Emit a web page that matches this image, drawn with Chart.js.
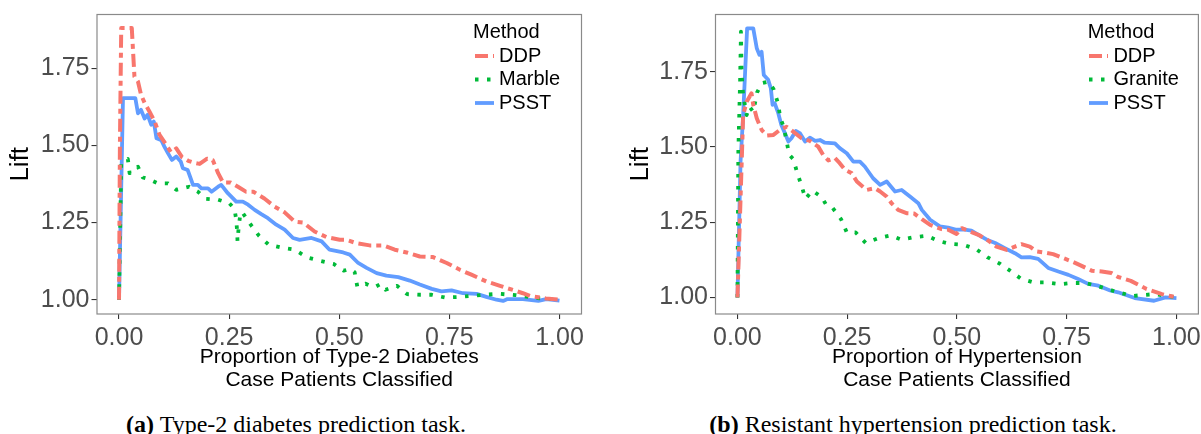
<!DOCTYPE html>
<html>
<head>
<meta charset="utf-8">
<script src="https://cdn.jsdelivr.net/npm/chart.js@4.4.1/dist/chart.umd.min.js"></script>
<style>
  html, body { margin: 0; padding: 0; background: #fff; }
  body { width: 1201px; height: 434px; position: relative; overflow: hidden; }
  .panel { position: absolute; top: 0; height: 400px; }
  #panel-a { left: 0; width: 600px; }
  #panel-b { left: 600px; width: 601px; }
  .caption {
    position: absolute; top: 412px; transform: translateX(-50%);
    white-space: nowrap; font-family: "Liberation Serif", "Times New Roman", serif;
    font-size: 24px; line-height: 24px; color: #000;
  }
</style>
</head>
<body>
<div class="panel" id="panel-a"><canvas id="chart-a"></canvas></div>
<div class="panel" id="panel-b"><canvas id="chart-b"></canvas></div>
<div class="caption" style="left:296px"><b>(a)</b> Type-2 diabetes prediction task.</div>
<div class="caption" style="left:913px"><b>(b)</b> Resistant hypertension prediction task.</div>

<script>
// --- Data (x = proportion classified, y = lift) ---
const xTicks = [0, 0.25, 0.5, 0.75, 1];
const yTicks = [1.00, 1.25, 1.50, 1.75];

const diabetesDDP = [
    [0, 1.0], [0.002, 1.5], [0.005, 1.88], [0.029, 1.88], [0.035, 1.723], [0.043, 1.707], [0.05, 1.664],
    [0.058, 1.638], [0.069, 1.61], [0.081, 1.577], [0.092, 1.534], [0.107, 1.502], [0.118, 1.478],
    [0.13, 1.49], [0.143, 1.462], [0.157, 1.45], [0.172, 1.443], [0.183, 1.44], [0.2, 1.457],
    [0.213, 1.452], [0.225, 1.41], [0.236, 1.38], [0.253, 1.38], [0.27, 1.366], [0.288, 1.35],
    [0.305, 1.35], [0.33, 1.328], [0.353, 1.302], [0.376, 1.283], [0.399, 1.253], [0.418, 1.25],
    [0.444, 1.221], [0.471, 1.203], [0.501, 1.194], [0.516, 1.194], [0.539, 1.183], [0.569, 1.176],
    [0.6, 1.176], [0.626, 1.162], [0.653, 1.153], [0.683, 1.14], [0.713, 1.138], [0.744, 1.119],
    [0.774, 1.097], [0.8, 1.081], [0.834, 1.059], [0.865, 1.045], [0.882, 1.037], [0.9, 1.029],
    [0.917, 1.021], [0.934, 1.012], [0.952, 1.008], [0.969, 1.004], [1.0, 1.0]
];
const diabetesMarble = [
    [0, 1.0], [0.005, 1.44], [0.02, 1.456], [0.024, 1.41], [0.043, 1.431], [0.054, 1.396], [0.069, 1.39],
    [0.088, 1.377], [0.111, 1.377], [0.13, 1.356], [0.159, 1.366], [0.179, 1.35], [0.197, 1.327],
    [0.225, 1.324], [0.25, 1.313], [0.262, 1.295], [0.266, 1.26], [0.268, 1.225], [0.269, 1.19],
    [0.272, 1.24], [0.276, 1.283], [0.28, 1.283], [0.299, 1.243], [0.318, 1.207], [0.34, 1.178],
    [0.371, 1.168], [0.399, 1.162], [0.427, 1.137], [0.457, 1.126], [0.487, 1.116], [0.51, 1.094],
    [0.525, 1.1], [0.535, 1.089], [0.538, 1.065], [0.541, 1.043], [0.56, 1.052], [0.569, 1.046],
    [0.581, 1.041], [0.594, 1.051], [0.605, 1.032], [0.631, 1.045], [0.654, 1.018], [0.685, 1.016],
    [0.71, 1.016], [0.74, 1.007], [0.772, 1.009], [0.83, 1.016], [0.863, 1.019], [0.9, 1.015],
    [0.95, 1.005], [1.0, 1.0]
];
const diabetesPSST = [
    [0, 1.0], [0.009, 1.653], [0.037, 1.653], [0.043, 1.604], [0.05, 1.615], [0.058, 1.587], [0.065, 1.599],
    [0.073, 1.567], [0.079, 1.577], [0.085, 1.523], [0.096, 1.517], [0.103, 1.496], [0.111, 1.475],
    [0.12, 1.453], [0.13, 1.464], [0.14, 1.448], [0.145, 1.426], [0.156, 1.42], [0.168, 1.372],
    [0.179, 1.372], [0.187, 1.361], [0.202, 1.361], [0.21, 1.35], [0.225, 1.366], [0.232, 1.372],
    [0.247, 1.345], [0.266, 1.318], [0.281, 1.318], [0.293, 1.308], [0.308, 1.291], [0.323, 1.277],
    [0.338, 1.264], [0.357, 1.243], [0.376, 1.227], [0.395, 1.2], [0.41, 1.194], [0.437, 1.2],
    [0.46, 1.189], [0.478, 1.162], [0.509, 1.153], [0.524, 1.146], [0.543, 1.119], [0.562, 1.103],
    [0.585, 1.086], [0.607, 1.078], [0.634, 1.073], [0.66, 1.062], [0.683, 1.049], [0.71, 1.035],
    [0.732, 1.027], [0.755, 1.03], [0.781, 1.021], [0.812, 1.019], [0.834, 1.009], [0.857, 1.0],
    [0.872, 0.996], [0.882, 1.002], [0.917, 1.002], [0.952, 0.996], [0.97, 1.002], [1.0, 0.997]
];

const htnDDP = [
    [0, 1.0], [0.013, 1.606], [0.021, 1.65], [0.032, 1.678], [0.036, 1.64], [0.044, 1.595], [0.055, 1.557],
    [0.067, 1.538], [0.082, 1.54], [0.097, 1.557], [0.112, 1.567], [0.127, 1.551], [0.146, 1.529],
    [0.165, 1.52], [0.184, 1.501], [0.195, 1.474], [0.207, 1.455], [0.222, 1.463], [0.233, 1.446],
    [0.245, 1.424], [0.26, 1.413], [0.272, 1.385], [0.294, 1.357], [0.313, 1.363], [0.325, 1.352],
    [0.34, 1.335], [0.351, 1.313], [0.366, 1.291], [0.385, 1.28], [0.402, 1.279], [0.42, 1.26],
    [0.439, 1.241], [0.465, 1.227], [0.48, 1.225], [0.499, 1.211], [0.511, 1.23], [0.53, 1.219],
    [0.549, 1.208], [0.568, 1.192], [0.59, 1.169], [0.613, 1.158], [0.632, 1.169], [0.647, 1.177],
    [0.666, 1.169], [0.681, 1.153], [0.7, 1.149], [0.719, 1.144], [0.738, 1.133], [0.761, 1.12],
    [0.784, 1.105], [0.807, 1.089], [0.83, 1.086], [0.852, 1.081], [0.867, 1.068], [0.896, 1.055],
    [0.932, 1.028], [0.967, 1.011], [1.0, 1.0]
];
const htnGranite = [
    [0, 1.0], [0.002, 1.485], [0.006, 1.717], [0.008, 1.883], [0.0096, 1.74], [0.013, 1.673], [0.021, 1.606],
    [0.027, 1.634], [0.036, 1.617], [0.045, 1.682], [0.056, 1.712], [0.07, 1.717], [0.082, 1.693],
    [0.093, 1.642], [0.097, 1.601], [0.106, 1.562], [0.118, 1.474], [0.127, 1.46], [0.136, 1.415],
    [0.146, 1.371], [0.155, 1.328], [0.171, 1.355], [0.192, 1.333], [0.202, 1.308], [0.217, 1.297],
    [0.236, 1.26], [0.249, 1.216], [0.269, 1.216], [0.292, 1.181], [0.321, 1.197], [0.349, 1.206],
    [0.374, 1.192], [0.402, 1.2], [0.431, 1.205], [0.457, 1.188], [0.484, 1.178], [0.514, 1.175],
    [0.543, 1.161], [0.57, 1.133], [0.598, 1.112], [0.621, 1.089], [0.646, 1.062], [0.674, 1.05],
    [0.704, 1.05], [0.735, 1.044], [0.761, 1.048], [0.792, 1.048], [0.822, 1.037], [0.86, 1.02],
    [0.9, 1.005], [0.949, 1.011], [1.0, 1.0]
];
const htnPSST = [
    [0, 1.0], [0.007, 1.45], [0.013, 1.606], [0.022, 1.894], [0.036, 1.894], [0.044, 1.828], [0.05, 1.806],
    [0.055, 1.816], [0.06, 1.739], [0.07, 1.723], [0.076, 1.695], [0.08, 1.64], [0.085, 1.645],
    [0.093, 1.612], [0.1, 1.573], [0.108, 1.546], [0.116, 1.518], [0.123, 1.529], [0.133, 1.553],
    [0.142, 1.546], [0.154, 1.518], [0.165, 1.531], [0.177, 1.52], [0.188, 1.523], [0.199, 1.514],
    [0.222, 1.512], [0.233, 1.496], [0.249, 1.479], [0.264, 1.451], [0.279, 1.451], [0.29, 1.435],
    [0.309, 1.396], [0.325, 1.374], [0.34, 1.385], [0.359, 1.352], [0.374, 1.357], [0.393, 1.335],
    [0.412, 1.313], [0.42, 1.291], [0.439, 1.258], [0.461, 1.236], [0.48, 1.232], [0.499, 1.225],
    [0.518, 1.225], [0.533, 1.222], [0.549, 1.208], [0.568, 1.192], [0.587, 1.181], [0.609, 1.164],
    [0.632, 1.147], [0.647, 1.133], [0.666, 1.134], [0.685, 1.128], [0.708, 1.098], [0.731, 1.086],
    [0.754, 1.075], [0.776, 1.061], [0.799, 1.045], [0.822, 1.039], [0.849, 1.023], [0.867, 1.017],
    [0.905, 0.998], [0.949, 0.989], [0.975, 1.0], [1.0, 0.998]
];

// --- Styles ---
const FONT = '"Liberation Sans", Arial, sans-serif';
const RED = '#F8766D';
const GREEN = '#00BA38';
const BLUE = '#619CFF';

/** Panel box (ggplot border) **/
const boxPlugin = {
    id: 'panelBox',
    beforeDatasetsDraw(chart) {
        const { ctx, chartArea: a } = chart;
        ctx.save();
        ctx.strokeStyle = '#8a8a8a';
        ctx.lineWidth = 1.2;
        ctx.strokeRect(a.left, a.top, a.right - a.left, a.bottom - a.top);
        ctx.restore();
    }
};

/** Legend inside the panel, top right **/
const methodLegend = {
    id: 'methodLegend',
    afterDraw(chart, args, opts) {
        const { ctx, chartArea: a } = chart;
        ctx.save();
        ctx.font = '20px ' + FONT;
        ctx.fillStyle = '#000';
        ctx.textBaseline = 'middle';
        ctx.textAlign = 'left';
        ctx.fillText('Method', a.right - opts.titleOffset, a.top + 17.5);
        chart.data.datasets.forEach((ds, i) => {
            const y = a.top + 41.5 + i * 23.5;
            const kx = a.right - opts.keyOffset;
            ctx.strokeStyle = ds.borderColor;
            ctx.lineWidth = ds.borderWidth;
            ctx.setLineDash(ds.borderDash || []);
            ctx.beginPath();
            ctx.moveTo(kx, y);
            ctx.lineTo(kx + 19, y);
            ctx.stroke();
            ctx.setLineDash([]);
            ctx.fillText(ds.label, a.right - opts.textOffset, y);
        });
        ctx.restore();
    }
};

function toPoints(pairs) {
    return pairs.map(([x, y]) => ({ x, y }));
}

/** Build one lift chart **/
function makeChart(canvasId, cfg) {
    const datasets = cfg.series.map(s => ({
        label: s.label,
        data: toPoints(s.data),
        borderColor: s.color,
        borderWidth: s.width,
        borderDash: s.dash,
        borderJoinStyle: 'round',
        pointRadius: 0,
        tension: 0,
        fill: false
    }));

    return new Chart(document.getElementById(canvasId), {
        type: 'line',
        data: { datasets },
        options: {
            responsive: true,
            maintainAspectRatio: false,
            animation: false,
            events: [],
            layout: { padding: { left: 0, top: 14.5, right: cfg.padRight, bottom: 0 } },
            plugins: {
                legend: { display: false },
                tooltip: { enabled: false },
                methodLegend: cfg.legend
            },
            scales: {
                x: {
                    type: 'linear',
                    min: -0.05,
                    max: 1.05,
                    afterBuildTicks: s => { s.ticks = xTicks.map(v => ({ value: v })); },
                    afterFit: s => { s.height = 86; s.paddingLeft = 0; s.paddingRight = 0; },
                    border: { display: false },
                    grid: { drawOnChartArea: false, tickLength: 5, color: '#333', lineWidth: 1.1 },
                    ticks: {
                        padding: 4,
                        color: '#4D4D4D',
                        font: { family: FONT, size: 25 },
                        maxRotation: 0,
                        callback: v => v.toFixed(2)
                    },
                    title: {
                        display: true,
                        text: cfg.xTitle,
                        color: '#000',
                        font: { family: FONT, size: 21, lineHeight: 1.1 },
                        padding: { top: 0, bottom: 8.5 }
                    }
                },
                y: {
                    type: 'linear',
                    min: cfg.yMin,
                    max: cfg.yMax,
                    afterBuildTicks: s => { s.ticks = yTicks.map(v => ({ value: v })); },
                    afterFit: s => { s.width = cfg.yWidth; s.paddingTop = 0; s.paddingBottom = 0; },
                    border: { display: false },
                    grid: { drawOnChartArea: false, tickLength: 5.5, color: '#333', lineWidth: 1.1 },
                    ticks: {
                        padding: 2,
                        color: '#4D4D4D',
                        font: { family: FONT, size: 25 },
                        callback: v => v.toFixed(2)
                    },
                    title: {
                        display: true,
                        text: 'Lift',
                        color: '#000',
                        font: { family: FONT, size: 26, lineHeight: 1.2 },
                        padding: { top: cfg.liftPad, bottom: 0 }
                    }
                }
            }
        },
        plugins: [boxPlugin, methodLegend]
    });
}

const ddpDash = [13, 5, 5, 5];
const dotDash = [3.5, 8.5];

makeChart('chart-a', {
    xTitle: ['Proportion of Type-2 Diabetes', 'Case Patients Classified'],
    yMin: 0.9537, yMax: 1.924, yWidth: 97, padRight: 18.5, liftPad: 5,
    legend: { titleOffset: 108.5, keyOffset: 106.5, textOffset: 82.5 },
    series: [
        { label: 'DDP', data: diabetesDDP, color: RED, width: 4, dash: ddpDash },
        { label: 'Marble', data: diabetesMarble, color: GREEN, width: 3.8, dash: dotDash },
        { label: 'PSST', data: diabetesPSST, color: BLUE, width: 3.8, dash: [] }
    ]
});

makeChart('chart-b', {
    xTitle: ['Proportion of Hypertension', 'Case Patients Classified'],
    yMin: 0.945, yMax: 1.94, yWidth: 115.5, padRight: 2.6, liftPad: 24.8,
    legend: { titleOffset: 110.7, keyOffset: 109.4, textOffset: 85 },
    series: [
        { label: 'DDP', data: htnDDP, color: RED, width: 4, dash: ddpDash },
        { label: 'Granite', data: htnGranite, color: GREEN, width: 3.8, dash: dotDash },
        { label: 'PSST', data: htnPSST, color: BLUE, width: 3.8, dash: [] }
    ]
});
</script>
</body>
</html>
